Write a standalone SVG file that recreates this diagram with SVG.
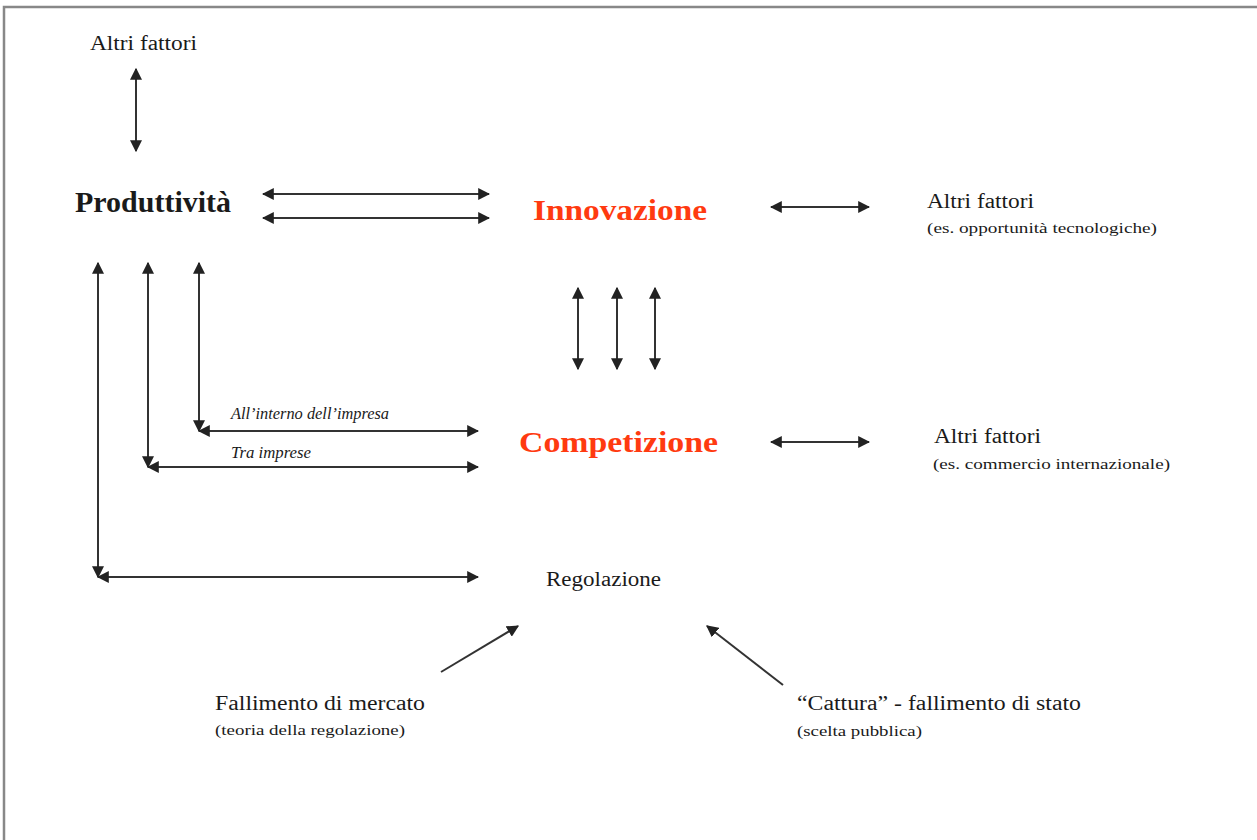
<svg xmlns="http://www.w3.org/2000/svg" width="1257" height="840" viewBox="0 0 1257 840">
<style>
text{font-family:"Liberation Serif","Times New Roman",serif;fill:#1a1a1a}
.t19{font-size:20px}
.t15{font-size:15.5px}
.it{font-size:16px;font-style:italic}
.big{font-size:30px;font-weight:bold}
.red{fill:#ff3a10}
.c{stroke:#333;stroke-width:2;fill:none;marker-start:url(#ah);marker-end:url(#ah)}
.c1{stroke:#333;stroke-width:2;fill:none;marker-end:url(#ah)}
</style>
<defs>
<marker id="ah" viewBox="0 0 10 10" refX="9" refY="5" markerWidth="6" markerHeight="6" orient="auto-start-reverse" markerUnits="strokeWidth">
<path d="M0,0 L10,5 L0,10 z" fill="#222"/>
</marker>
</defs>
<rect width="1257" height="840" fill="#fff"/>
<path d="M4,840 V7 H1257" stroke="#888" stroke-width="2.5" fill="none"/>

<g id="altri-top"><text class="t19" x="90" y="50" textLength="107" lengthAdjust="spacingAndGlyphs">Altri fattori</text></g>
<g id="produttivita"><text class="big" x="75" y="212" textLength="156" lengthAdjust="spacingAndGlyphs">Produttività</text></g>
<g id="innovazione"><text class="big red" x="533" y="220" textLength="174" lengthAdjust="spacingAndGlyphs">Innovazione</text></g>
<g id="altri-innov"><text class="t19" x="927" y="208" textLength="107" lengthAdjust="spacingAndGlyphs">Altri fattori</text><text class="t15" x="927" y="233" textLength="230" lengthAdjust="spacingAndGlyphs">(es. opportunità tecnologiche)</text></g>
<g id="competizione"><text class="big red" x="519" y="452" textLength="199" lengthAdjust="spacingAndGlyphs">Competizione</text></g>
<g id="altri-comp"><text class="t19" x="934" y="443" textLength="107" lengthAdjust="spacingAndGlyphs">Altri fattori</text><text class="t15" x="933" y="469" textLength="237" lengthAdjust="spacingAndGlyphs">(es. commercio internazionale)</text></g>
<g id="regolazione"><text class="t19" x="546" y="586" textLength="115" lengthAdjust="spacingAndGlyphs">Regolazione</text></g>
<g id="fallimento-mercato"><text class="t19" x="215" y="710" textLength="210" lengthAdjust="spacingAndGlyphs">Fallimento di mercato</text><text class="t15" x="215" y="735" textLength="190" lengthAdjust="spacingAndGlyphs">(teoria della regolazione)</text></g>
<g id="cattura"><text class="t19" x="797" y="710" textLength="284" lengthAdjust="spacingAndGlyphs">“Cattura” - fallimento di stato</text><text class="t15" x="797" y="736" textLength="125" lengthAdjust="spacingAndGlyphs">(scelta pubblica)</text></g>

<g id="connectors">
<line class="c" x1="136" y1="69" x2="136" y2="151"/>
<line class="c" x1="263" y1="194" x2="489" y2="194"/>
<line class="c" x1="263" y1="218" x2="489" y2="218"/>
<line class="c" x1="771" y1="207" x2="869" y2="207"/>
<line class="c" x1="578" y1="288" x2="578" y2="369"/>
<line class="c" x1="617" y1="288" x2="617" y2="369"/>
<line class="c" x1="655" y1="288" x2="655" y2="369"/>
<line class="c" x1="771" y1="442" x2="869" y2="442"/>
<line class="c" x1="199" y1="263" x2="199" y2="431"/>
<line class="c" x1="199" y1="431" x2="478" y2="431"/>
<line class="c" x1="148" y1="263" x2="148" y2="467"/>
<line class="c" x1="148" y1="467" x2="478" y2="467"/>
<line class="c" x1="98" y1="263" x2="98" y2="577"/>
<line class="c" x1="98" y1="577" x2="478" y2="577"/>
<line class="c1" x1="441" y1="672" x2="518" y2="626"/>
<line class="c1" x1="783" y1="685" x2="707" y2="626"/>
<text class="it" x="231" y="419" textLength="158" lengthAdjust="spacingAndGlyphs">All’interno dell’impresa</text>
<text class="it" x="231" y="458" textLength="80" lengthAdjust="spacingAndGlyphs">Tra imprese</text>
</g>
</svg>
